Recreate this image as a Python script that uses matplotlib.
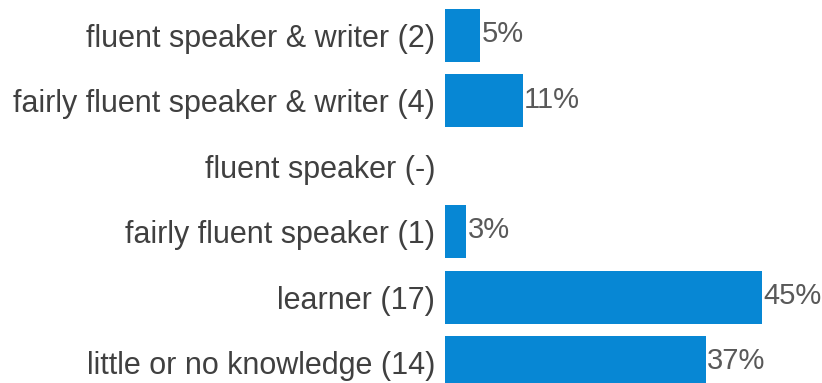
import matplotlib

matplotlib.use("Agg")
import matplotlib.pyplot as plt

categories = [
    "fluent speaker & writer (2)",
    "fairly fluent speaker & writer (4)",
    "fluent speaker (-)",
    "fairly fluent speaker (1)",
    "learner (17)",
    "little or no knowledge (14)",
]
percent = [5, 11, 0, 3, 45, 37]
value_labels = ["5%", "11%", "", "3%", "45%", "37%"]

BAR_COLOR = "#0787d4"
LABEL_COLOR = "#404040"
VALUE_COLOR = "#595959"

plt.rcParams["font.family"] = ["Liberation Sans", "DejaVu Sans"]

fig = plt.figure(figsize=(8.22, 3.83), dpi=100)
ax = fig.add_axes([445 / 822, 0, 377 / 822, 1])

ypos = list(range(len(categories)))
ax.barh(ypos, percent, height=0.81, color=BAR_COLOR)

# percentage labels just right of each bar
for y, v, lab in zip(ypos, percent, value_labels):
    if lab:
        ax.text(v + 0.2, y - 0.02, lab, va="center", ha="left", fontsize=21, color=VALUE_COLOR)

ax.set_yticks(ypos)
ax.set_yticklabels(categories, fontsize=22, color=LABEL_COLOR)
ax.tick_params(axis="y", length=0, pad=7)
ax.set_xticks([])
ax.set_xlim(0, 53.5)
ax.set_ylim(5.313, -0.543)
for spine in ax.spines.values():
    spine.set_visible(False)

fig.savefig("out.png", dpi=100)
